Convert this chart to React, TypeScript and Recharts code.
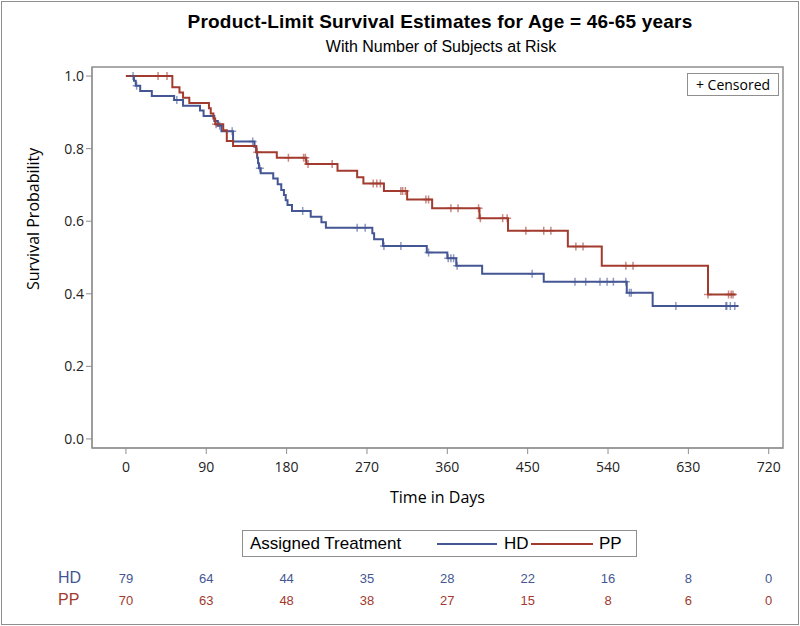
import React from 'react';
import { ComposedChart, Line, Scatter, XAxis, YAxis, ReferenceArea } from 'recharts';

// Kaplan-Meier steps (time in days, survival)
const hdTime = [0, 9, 11, 16, 29, 54, 64, 83, 87, 99, 103, 107, 120, 144, 146, 147, 148, 149, 151, 165, 170, 174, 177, 179, 181, 186, 207, 219, 224, 276, 278, 288, 337, 360, 370, 399, 468, 561, 590, 686];
const hdSurv = [1.0, 0.987, 0.973, 0.959, 0.945, 0.934, 0.918, 0.905, 0.89, 0.876, 0.863, 0.848, 0.82, 0.805, 0.79, 0.775, 0.76, 0.746, 0.732, 0.718, 0.702, 0.686, 0.672, 0.658, 0.645, 0.628, 0.612, 0.597, 0.582, 0.567, 0.55, 0.532, 0.514, 0.498, 0.477, 0.455, 0.433, 0.403, 0.366, 0.366];
const hdCensor = [8, 12, 57, 105, 119, 142, 150, 198, 259, 268, 289, 308, 339, 361, 364, 367, 371, 455, 503, 515, 531, 539, 546, 560, 564, 566, 616, 672, 673, 677, 682];

const ppTime = [0, 52, 60, 64, 71, 93, 95, 98, 100, 109, 113, 120, 146, 169, 202, 237, 259, 266, 289, 315, 343, 396, 428, 495, 533, 652, 683];
const ppSurv = [1.0, 0.969, 0.955, 0.94, 0.926, 0.911, 0.897, 0.883, 0.867, 0.851, 0.821, 0.807, 0.79, 0.775, 0.758, 0.739, 0.721, 0.704, 0.683, 0.66, 0.636, 0.608, 0.574, 0.53, 0.477, 0.398, 0.398];
const ppCensor = [36, 46, 101, 147, 182, 199, 201, 204, 231, 277, 281, 285, 308, 310, 313, 336, 339, 364, 372, 395, 397, 422, 427, 448, 468, 476, 504, 512, 560, 568, 652, 675, 678, 680];

const timeTicks = [0, 90, 180, 270, 360, 450, 540, 630, 720];
const survTicks = [0, 0.2, 0.4, 0.6, 0.8, 1.0];
const hdAtRisk = [79, 64, 44, 35, 28, 22, 16, 8, 0];
const ppAtRisk = [70, 63, 48, 38, 27, 15, 8, 6, 0];

const HD_COLOR = '#445694';
const PP_COLOR = '#A23A2E';
const FRAME = '#8f8f8f';
const SANS = "'Open Sans', 'DejaVu Sans', sans-serif";
const ARIAL = "'Liberation Sans', Arial, sans-serif";
const NARROW = "'Liberation Sans Narrow', 'Liberation Sans', sans-serif";

const toSteps = (times: number[], surv: number[]) => times.map((t, i) => ({ t, s: surv[i] }));

// survival at each censoring time = value of the step function there
const toCensor = (times: number[], surv: number[], cens: number[]) =>
  cens.map((c) => {
    let s = surv[0];
    times.forEach((t, i) => { if (t <= c) s = surv[i]; });
    return { t: c, s };
  });

const hdLine = toSteps(hdTime, hdSurv);
const ppLine = toSteps(ppTime, ppSurv);
const hdMarks = toCensor(hdTime, hdSurv, hdCensor);
const ppMarks = toCensor(ppTime, ppSurv, ppCensor);

const plus = (color: string) => (props: any) => {
  const { cx, cy } = props;
  return <path d={`M${cx - 4},${cy}h8M${cx},${cy - 4}v8`} stroke={color} strokeOpacity={0.6} strokeWidth={1.5} fill="none" />;
};

const TimeTick = (props: any) => {
  const { x, y, payload } = props;
  const i = timeTicks.indexOf(payload.value);
  return (
    <g>
      <text x={x} y={y + 16} textAnchor="middle" fontFamily={SANS} fontSize={14} fill="#222">{payload.value}</text>
      <text x={x} y={y + 127} textAnchor="middle" fontFamily={NARROW} fontSize={13} fill={HD_COLOR}>{hdAtRisk[i]}</text>
      <text x={x} y={y + 149} textAnchor="middle" fontFamily={NARROW} fontSize={13} fill={PP_COLOR}>{ppAtRisk[i]}</text>
    </g>
  );
};

const abs = (style: React.CSSProperties): React.CSSProperties => ({ position: 'absolute', whiteSpace: 'nowrap', ...style });

export default function App() {
  return (
    <div style={{ position: 'absolute', left: 0, top: 0, width: 800, height: 626, background: '#fff' }}>
      <div style={abs({ left: 1, top: 1, width: 796, height: 622, border: `1px solid ${FRAME}` })} />
      <div style={abs({ left: 0, width: 880, top: 10, textAlign: 'center', fontFamily: ARIAL, fontWeight: 'bold', fontSize: 19, letterSpacing: 0.2, lineHeight: '24px', color: '#000' })}>
        Product-Limit Survival Estimates for Age = 46-65 years
      </div>
      <div style={abs({ left: 0, width: 882, top: 38, textAlign: 'center', fontFamily: ARIAL, fontSize: 16, lineHeight: '18px', color: '#000' })}>
        With Number of Subjects at Risk
      </div>
      <ComposedChart width={800} height={626} margin={{ top: 67, right: 17, left: 42, bottom: 148 }}>
        <XAxis
          type="number"
          dataKey="t"
          domain={[-38, 736]}
          ticks={timeTicks}
          interval={0}
          allowDataOverflow
          height={30}
          tickSize={6}
          stroke={FRAME}
          tick={<TimeTick />}
        />
        <YAxis
          type="number"
          dataKey="s"
          domain={[-0.025, 1.025]}
          ticks={survTicks}
          interval={0}
          allowDataOverflow
          width={50}
          tickSize={6}
          stroke={FRAME}
          tick={{ fill: '#222', fontFamily: SANS, fontSize: 14 }}
          tickFormatter={(v: number) => v.toFixed(1)}
        />
        <ReferenceArea x1={-38} x2={736} y1={-0.025} y2={1.025} fill="none" stroke={FRAME} strokeWidth={1.5} />
        <Line data={hdLine} dataKey="s" type="stepAfter" stroke={HD_COLOR} strokeWidth={2} dot={false} isAnimationActive={false} />
        <Line data={ppLine} dataKey="s" type="stepAfter" stroke={PP_COLOR} strokeWidth={2} dot={false} isAnimationActive={false} />
        <Scatter data={hdMarks} dataKey="s" shape={plus(HD_COLOR)} isAnimationActive={false} />
        <Scatter data={ppMarks} dataKey="s" shape={plus(PP_COLOR)} isAnimationActive={false} />
      </ComposedChart>
      <div style={abs({ left: 0, top: 249, width: 66, height: 16, transform: 'rotate(-90deg)', transformOrigin: '33px 8px', textAlign: 'center', fontFamily: SANS, fontSize: 16, lineHeight: '16px' })}>
        <span>Survival Probability</span>
      </div>
      <div style={abs({ left: 92, width: 691, top: 486, textAlign: 'center', fontFamily: SANS, fontSize: 16, lineHeight: '22px' })}>
        Time in Days
      </div>
      <div style={abs({ left: 687, top: 73, width: 90, height: 21, border: `1px solid ${FRAME}`, fontFamily: SANS, fontSize: 14, lineHeight: '21px', textAlign: 'center' })}>
        + Censored
      </div>
      <div style={abs({ left: 242, top: 530, width: 393, height: 25, border: `1px solid ${FRAME}`, fontFamily: ARIAL, fontSize: 17, lineHeight: '25px' })}>
        <span style={abs({ left: 7, top: 0 })}>Assigned Treatment</span>
        <svg width={60} height={10} style={abs({ left: 194, top: 8 })}><line x1={0} y1={5} x2={60} y2={5} stroke={HD_COLOR} strokeWidth={2} /></svg>
        <span style={abs({ left: 261, top: 0 })}>HD</span>
        <svg width={62} height={10} style={abs({ left: 288, top: 8 })}><line x1={0} y1={5} x2={62} y2={5} stroke={PP_COLOR} strokeWidth={2} /></svg>
        <span style={abs({ left: 356, top: 0 })}>PP</span>
      </div>
      <div style={abs({ left: 58, top: 568, fontFamily: ARIAL, fontSize: 16, lineHeight: '20px', color: HD_COLOR })}>HD</div>
      <div style={abs({ left: 58, top: 590, fontFamily: ARIAL, fontSize: 16, lineHeight: '20px', color: PP_COLOR })}>PP</div>
    </div>
  );
}
